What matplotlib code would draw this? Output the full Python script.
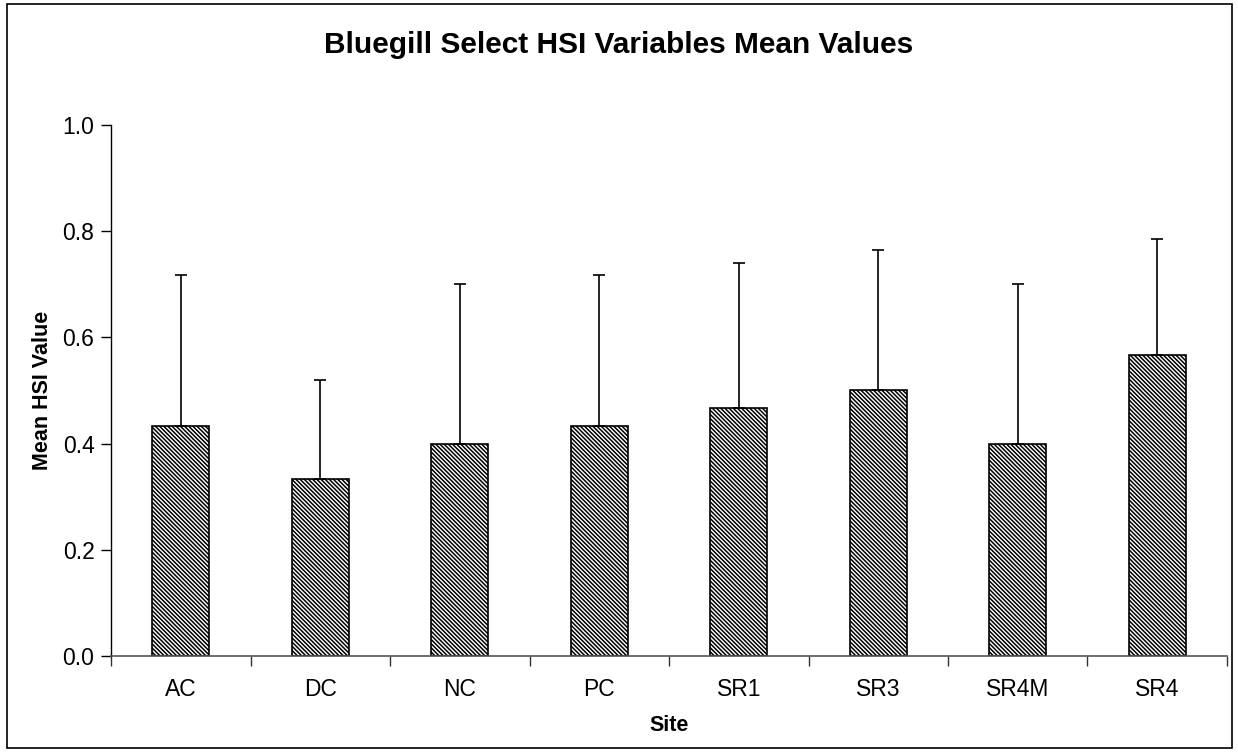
import numpy as np
import matplotlib.pyplot as plt
from matplotlib.patches import Rectangle

plt.rcParams['font.family'] = ['Liberation Sans', 'DejaVu Sans']
plt.rcParams['hatch.linewidth'] = 1.1
plt.rcParams['hatch.color'] = '#4a4a4a'

sites = ["AC", "DC", "NC", "PC", "SR1", "SR3", "SR4M", "SR4"]
mean_hsi = [0.433, 0.333, 0.400, 0.433, 0.467, 0.500, 0.400, 0.567]
sd_upper = [0.285, 0.187, 0.300, 0.285, 0.273, 0.264, 0.300, 0.218]

fig = plt.figure(figsize=(12.38, 7.52), dpi=100)
ax = fig.add_axes([0.0897, 0.1277, 0.9014, 0.7061])

x = np.arange(len(sites))
ax.bar(x, mean_hsi, width=0.41, color='white', edgecolor='black',
       linewidth=1.2, hatch='\\' * 8, zorder=2)
ax.errorbar(x, mean_hsi, yerr=[np.zeros(len(sites)), sd_upper], fmt='none',
            ecolor='black', elinewidth=1.2, capsize=4, capthick=1.2, zorder=3)

ax.set_xlim(-0.5, len(sites) - 0.5)
ax.set_ylim(0, 1.0)
ax.set_yticks(np.arange(0, 1.01, 0.2))
ax.set_yticklabels([f"{v:.1f}" for v in np.arange(0, 1.01, 0.2)])

# category boundaries get the tick marks, labels sit at bar centres
ax.set_xticks(np.arange(-0.5, len(sites), 1.0))
ax.set_xticklabels([])
ax.set_xticks(x, minor=True)
ax.set_xticklabels(sites, minor=True)
ax.tick_params(axis='x', which='major', direction='out', length=7, width=1, color='#333333')
ax.tick_params(axis='x', which='minor', length=0, pad=16, labelsize=16.5)
ax.tick_params(axis='y', direction='out', length=7, width=1, labelsize=16.5, pad=5)

ax.spines['top'].set_visible(False)
ax.spines['right'].set_visible(False)
ax.spines['bottom'].set_color('#555555')
ax.spines['bottom'].set_linewidth(1.2)
ax.spines['left'].set_linewidth(1.0)

ax.set_xlabel("Site", fontsize=15.5, fontweight='bold', labelpad=10)
ax.set_ylabel("Mean HSI Value", fontsize=15.5, fontweight='bold', labelpad=7)
fig.text(0.5, 0.94, "Bluegill Select HSI Variables Mean Values",
         ha='center', va='center', fontsize=21.5, fontweight='bold')

# outer chart frame
fig.patches.append(Rectangle((7 / 1238, 4 / 752), 1225 / 1238, 744 / 752,
                             transform=fig.transFigure, fill=False,
                             edgecolor='black', linewidth=1.2))

fig.savefig("out.png", dpi=100)
